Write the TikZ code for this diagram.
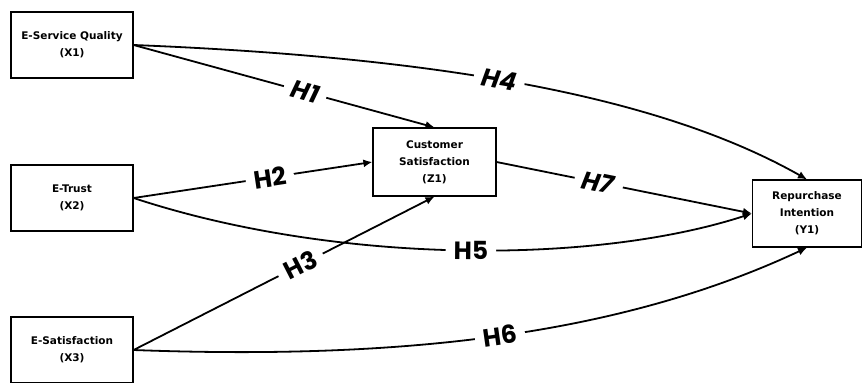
\documentclass[tikz,border=0pt]{standalone}
\usepackage{fontspec}
\setmainfont{DejaVu Sans}
\newfontfamily\hypfont{Poppins}
\usetikzlibrary{arrows.meta}

\begin{document}
\begin{tikzpicture}[x=1pt, y=-1pt,
        var/.style={draw, rectangle, line width=1.2pt, minimum width=122pt, minimum height=66pt,
            align=center, font=\bfseries\fontsize{10.5}{17}\selectfont},
        hyp/.style={->, >={Latex[length=9pt,width=8pt]}, line width=1.8pt},
        lab/.style={fill=white, sloped, inner xsep=8pt, inner ysep=1pt,
            font=\hypfont\bfseries\fontsize{25}{26}\selectfont}]
        \useasboundingbox (0,0) rectangle (863,383);

        \node[var] (x1) at (72,45) {E-Service Quality\\(X1)};
        \node[var] (x2) at (72,198) {E-Trust\\(X2)};
        \node[var] (x3) at (72,350) {E-Satisfaction\\(X3)};
        \node[var, minimum height=68pt, minimum width=123pt] (z1) at (434.5,162) {Customer\\Satisfaction\\(Z1)};
        \node[var, minimum height=67pt, minimum width=109pt] (y1) at (807,213.5) {Repurchase\\Intention\\(Y1)};

        % paths to the mediator
        \draw[hyp] (x1.east) -- node[lab, pos=0.57] {\textit{H1}} (z1.north);
        \draw[hyp] (x2.east) -- node[lab, pos=0.57] {H2} (z1.west);
        \draw[hyp] (x3.east) -- node[lab, pos=0.555] {H3} (z1.south);
        \draw[hyp] (z1.east) -- node[lab, pos=0.4] {\textit{H7}} (y1.west);

        % direct paths
        \draw[hyp] (x1.east) .. controls +(300,12) and +(-150,-85) .. node[lab, pos=0.46] {\textit{H4}} (y1.north);
        \draw[hyp] (x2.east) .. controls +(200,66) and +(-160,52) .. node[lab, pos=0.52] {H5} (y1.west);
        \draw[hyp] (x3.east) .. controls +(267,10) and +(-188,88) .. node[lab, pos=0.5] {H6} (y1.south);
    \end{tikzpicture}
\end{document}
